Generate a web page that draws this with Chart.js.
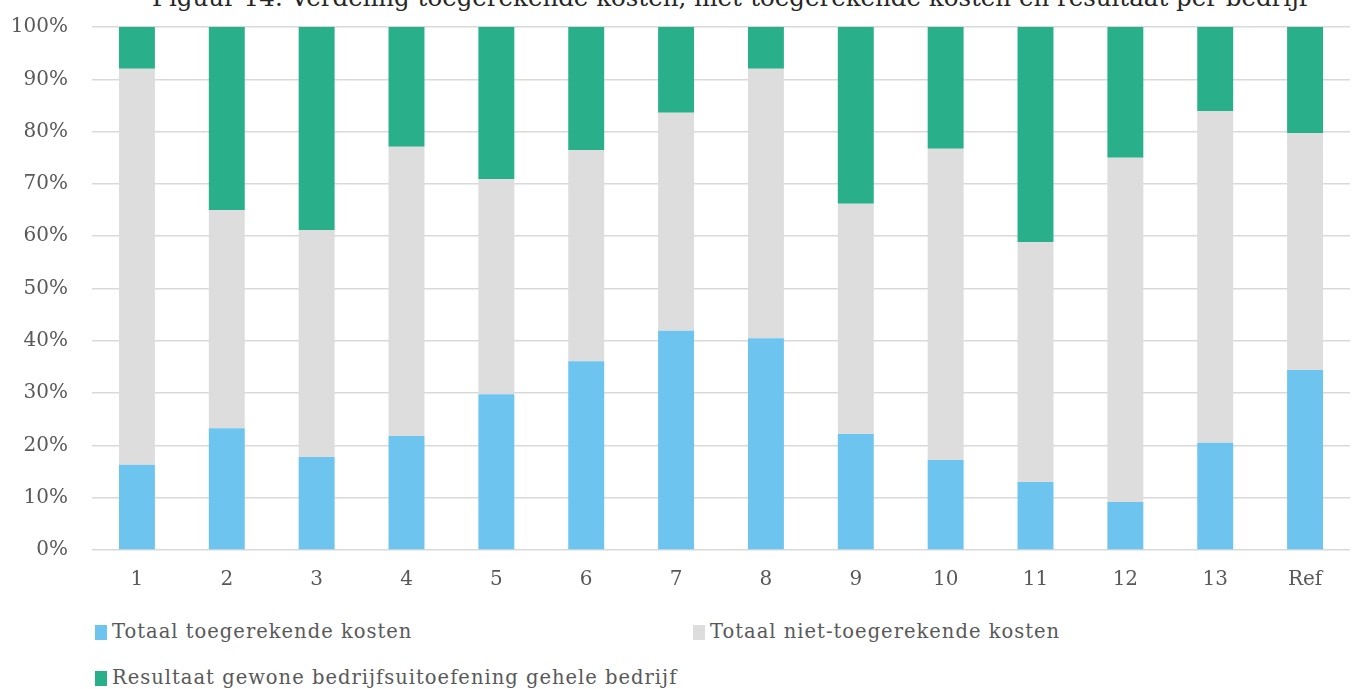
<!DOCTYPE html>
<html>
<head>
<meta charset="utf-8">
<script src="https://cdn.jsdelivr.net/npm/chart.js@4/dist/chart.umd.min.js"></script>
<style>
  body { margin: 0; background: #fff; overflow: hidden; }
  #wrap { position: relative; width: 1353px; height: 689px; }
  #title { position: absolute; top: -14px; left: 152px; font: 24.5px "DejaVu Serif"; color: #262626; line-height: 1; white-space: nowrap; }
  #chart { position: absolute; top: 0; left: 0; }
  .leg { position: absolute; font: 19.5px "DejaVu Serif"; letter-spacing: 1px; color: #595959; white-space: nowrap; line-height: 1; }
  .leg i { display: inline-block; width: 12px; height: 15px; margin-right: 5px; vertical-align: -2px; }
</style>
</head>
<body>
<div id="wrap">
  <div id="title">Figuur 14: Verdeling toegerekende kosten, niet-toegerekende kosten en resultaat per bedrijf</div>
  <canvas id="chart" width="1353" height="600"></canvas>
  <div id="legend"></div>
</div>
<script>
// bedrijven
const labels = ['1', '2', '3', '4', '5', '6', '7', '8', '9', '10', '11', '12', '13', 'Ref'];

const toegerekend = [16.3, 23.3, 17.8, 21.8, 29.8, 36.1, 41.9, 40.5, 22.2, 17.2, 13.0, 9.2, 20.5, 34.4];
const nietToegerekend = [75.7, 41.7, 43.4, 55.3, 41.1, 40.4, 41.7, 51.5, 44.0, 59.5, 45.9, 65.8, 63.4, 45.3];
const resultaat = [8.0, 35.0, 38.8, 22.9, 29.1, 23.5, 16.4, 8.0, 33.8, 23.3, 41.1, 25.0, 16.1, 20.3];

const yTicks = [0, 10, 20, 30, 40, 50, 60, 70, 80, 90, 100];

const font = { family: 'DejaVu Serif', size: 20 };
const textColor = '#595959';

const datasets = [
  { label: 'Totaal toegerekende kosten', data: toegerekend, backgroundColor: '#6DC4EF' },
  { label: 'Totaal niet-toegerekende kosten', data: nietToegerekend, backgroundColor: '#DDDDDD' },
  { label: 'Resultaat gewone bedrijfsuitoefening gehele bedrijf', data: resultaat, backgroundColor: '#29B08B' },
];

new Chart(document.getElementById('chart'), {
  type: 'bar',
  data: {
    labels: labels,
    datasets: datasets.map(d => ({ ...d, barPercentage: 0.4, categoryPercentage: 1 })),
  },
  options: {
    responsive: false,
    animation: false,
    layout: { padding: { top: 27, right: 3, left: 0, bottom: 0 } },
    plugins: { legend: { display: false }, title: { display: false }, tooltip: { enabled: false } },
    scales: {
      x: {
        stacked: true,
        grid: { display: false },
        border: { display: false },
        ticks: { font: font, color: textColor, padding: 10 },
        afterFit: (s) => { s.height = 50; s.paddingLeft = 0; s.paddingRight = 0; },
      },
      y: {
        stacked: true,
        min: 0,
        max: 100,
        afterBuildTicks: (s) => { s.ticks = yTicks.map(v => ({ value: v })); },
        grid: { color: '#D9D9D9', lineWidth: 1.5, drawTicks: false },
        border: { display: false },
        ticks: { font: font, color: textColor, padding: 24, callback: (v) => v + '%' },
        afterFit: (s) => { s.width = 92; s.paddingTop = 0; s.paddingBottom = 0; },
      },
    },
  },
});

// legenda in twee kolommen, zoals in het origineel
const legendPos = [[95, 622], [693, 622], [95, 668]];
const legend = document.getElementById('legend');
datasets.forEach((d, i) => {
  const el = document.createElement('div');
  el.className = 'leg';
  el.style.left = legendPos[i][0] + 'px';
  el.style.top = legendPos[i][1] + 'px';
  el.innerHTML = '<i style="background:' + d.backgroundColor + '"></i>' + d.label;
  legend.appendChild(el);
});
</script>
</body>
</html>
